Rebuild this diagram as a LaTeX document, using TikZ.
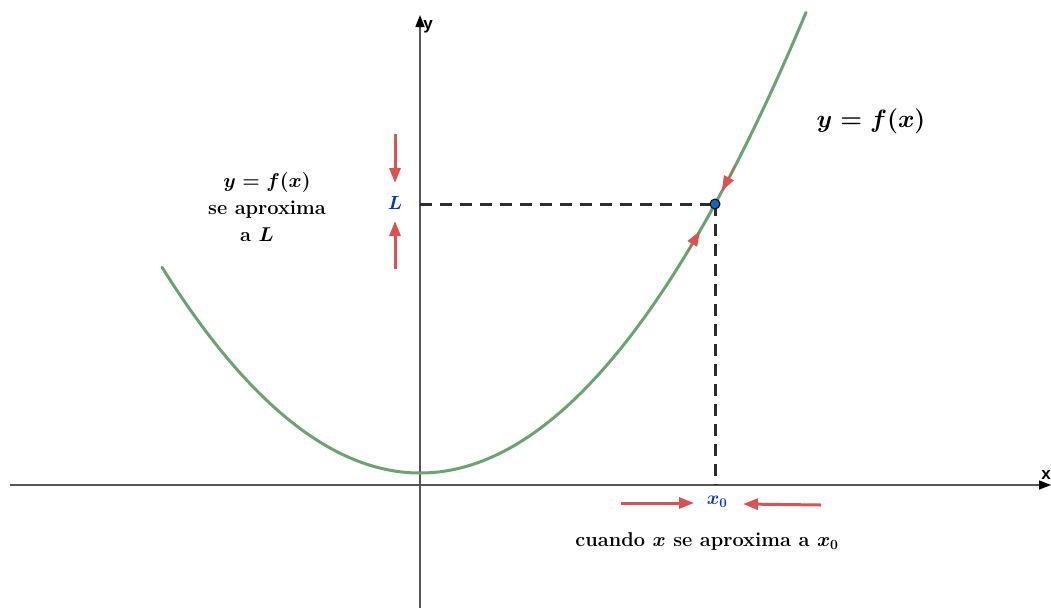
\RequirePackage{fix-cm}
\documentclass[tikz,border=0pt]{standalone}
\usepackage{fontspec}
\newfontfamily\axfont{Liberation Sans}
\usetikzlibrary{arrows.meta}
\definecolor{curvegreen}{RGB}{106,164,110}
\definecolor{arrred}{RGB}{220,82,82}
\definecolor{lblue}{RGB}{0,51,204}
\definecolor{ptblue}{RGB}{21,101,192}
\definecolor{axgray}{RGB}{85,85,85}
\definecolor{dashgray}{RGB}{45,45,45}
\tikzset{
  axis/.style={draw=axgray, line width=1.4pt, -{Triangle[length=12pt,width=9pt,color=black]}},
  redarrow/.style={draw=arrred, line width=3pt, -{Triangle[length=15pt,width=11pt]}},
  curvearrow/.style={draw=arrred, line width=1pt, -{Triangle[length=15pt,width=11pt]}},
  dashline/.style={draw=dashgray, line width=3pt, dash pattern=on 12pt off 8pt},
  lbl/.style={font=\fontsize{20}{27}\selectfont\bfseries\boldmath, align=center},
  bluelbl/.style={font=\fontsize{19}{23}\selectfont\bfseries\boldmath, text=lblue},
  axlbl/.style={font=\axfont\fontsize{17}{20}\selectfont\bfseries},
}
\begin{document}
\begin{tikzpicture}[x=1pt,y=-1pt]
\useasboundingbox (0,0) rectangle (1051,608);
% axes
\coordinate (xs) at (10,485);
\coordinate (xe) at (1051,485);
\coordinate (ys) at (420,608);
\coordinate (ye) at (420,15);
\draw[axis] (xs) -- (xe);
\draw[axis] (ys) -- (ye);
\node[axlbl] (xl) at (1046,475) {x};
\node[axlbl] (yl) at (428,27) {y};
% dashed lines
\coordinate (P) at (715,204);
\coordinate (Ly) at (420,204);
\coordinate (Xx) at (715,485);
\draw[dashline] (Ly) -- (P);
\draw[dashline] (P) -- (Xx);
% curve
\draw[curvegreen, line width=3pt, line cap=round] plot[domain=162:806, samples=120, smooth] (\x, {473-30.91*((\x-420)/100)^2});
% point
\node[circle, fill=ptblue, draw=black, line width=1pt, inner sep=0pt, minimum size=10pt] (pt) at (P) {};
% arrows on curve
\coordinate (ua1) at (735,166);
\coordinate (ua2) at (722,191);
\coordinate (la1) at (688,251);
\coordinate (la2) at (700,231);
\draw[curvearrow] (ua1) -- (ua2);
\draw[curvearrow] (la1) -- (la2);
% L arrows
\coordinate (a1s) at (395,134);
\coordinate (a1e) at (395,183);
\coordinate (a2s) at (395,269);
\coordinate (a2e) at (395,221);
\draw[redarrow] (a1s) -- (a1e);
\draw[redarrow] (a2s) -- (a2e);
\node[bluelbl] (L) at (395,203) {$L$};
% x0 arrows
\coordinate (b1s) at (621,503);
\coordinate (b1e) at (694,503);
\coordinate (b2s) at (821,505);
\coordinate (b2e) at (743,504);
\draw[redarrow] (b1s) -- (b1e);
\draw[redarrow] (b2s) -- (b2e);
\node[bluelbl] (x0) at (717,502) {$x_0$};
% labels
\node[lbl] (cuando) at (707,541) {cuando $x$ se aproxima a $x_0$};
\node[lbl] (left) at (267,207) {$y=f(x)$\\se aproxima\\\hspace*{-1.0em}a $L$};
\node[font=\fontsize{25}{29}\selectfont\bfseries\boldmath] (fx) at (871,121) {$y=f(x)$};
\end{tikzpicture}
\end{document}
